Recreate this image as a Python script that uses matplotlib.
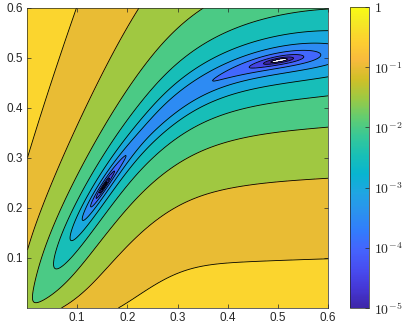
import numpy as np
import matplotlib
matplotlib.use("Agg")
import matplotlib.pyplot as plt
from matplotlib.colors import LinearSegmentedColormap, LogNorm
from matplotlib.cm import ScalarMappable

plt.rcParams['font.family'] = ['Liberation Sans', 'DejaVu Sans']
plt.rcParams['mathtext.fontset'] = 'cm'

# parula (MATLAB) anchor colours, every 4th entry of parula(64)
parula_rgb = [
    (0.2422, 0.1504, 0.6603), (0.2706, 0.2147, 0.8364), (0.2813, 0.3006, 0.9414),
    (0.2699, 0.3892, 0.9906), (0.1963, 0.4847, 0.9892), (0.1687, 0.5703, 0.9359),
    (0.1248, 0.6459, 0.8883), (0.0297, 0.7082, 0.8163), (0.0964, 0.7500, 0.7120),
    (0.2161, 0.7843, 0.5923), (0.3909, 0.8029, 0.4354), (0.6174, 0.7876, 0.2612),
    (0.8203, 0.7498, 0.1535), (0.9728, 0.7298, 0.2394), (0.9892, 0.8136, 0.1885),
    (0.9597, 0.9135, 0.1423), (0.9769, 0.9839, 0.0805),
]
parula_pos = [0, 4, 8, 12, 16, 20, 24, 28, 32, 36, 40, 44, 48, 52, 56, 60, 63]
parula = LinearSegmentedColormap.from_list(
    'parula', [(p / 63, c) for p, c in zip(parula_pos, parula_rgb)])

# the two minima of the surface (x positions)
min_x = [0.154, 0.503]

# valley centre line y = c(x): slope at origin, plateau height, bend sharpness, offset
valley_slope, valley_top, valley_pow, valley_offset = 1.59, 0.52, 3.5, 0.004

# along-valley weight: steep part near the origin + slow part towards the right
q_steep, q_steep_len, q_cut, q_cut_w = 6.05, 0.137, 0.24, 0.022
q_slow, q_slow_len = 0.8, 0.5

# stiffness across the valley, damped by exp(-gam*y)
a_far, a_near, a_len = 2.0, 3.3, 0.18
a_tip, a_tip_len = 9.5, 0.0169
gam = 1.0
# skew across the valley near the origin
beta0, beta_len = -1.2, 0.2

levels = 10.0 ** np.arange(-5, 0.01, 0.5)
cbar_ticks = [1e-5, 1e-4, 1e-3, 1e-2, 1e-1, 1]
cbar_labels = [r'$10^{-5}$', r'$10^{-4}$', r'$10^{-3}$', r'$10^{-2}$', r'$10^{-1}$', r'$1$']
axis_ticks = [0.1, 0.2, 0.3, 0.4, 0.5, 0.6]
tick_labels = ['0.1', '0.2', '0.3', '0.4', '0.5', '0.6']


def valley(x):
    s = valley_slope * x
    return valley_offset + s / (1 + (s / valley_top) ** valley_pow) ** (1 / valley_pow)


def along(x):
    Q = (q_steep * np.exp(-x / q_steep_len) / (1 + np.exp((x - q_cut) / q_cut_w))
         + q_slow * np.exp(-x / q_slow_len))
    return (x - min_x[0]) ** 2 * (x - min_x[1]) ** 2 * Q


def surface(x, y):
    d = y - valley(x)
    m = (valley(x + 1e-4) - valley(x - 1e-4)) / 2e-4
    u = x + m / (1 + m ** 2) * d          # foot of the normal on the valley
    stiff = a_far + a_near * np.exp(-u / a_len) + a_tip * np.exp(-u / a_tip_len)
    skew = np.exp(-beta0 * np.exp(-u / beta_len) * d)
    return along(x) + stiff * skew * d ** 2 * np.exp(-gam * y)


xs = np.linspace(0, 0.6, 601)
ys = np.linspace(0, 0.6, 601)
X, Y = np.meshgrid(xs, ys)
F = surface(X, Y)

norm = LogNorm(vmin=1e-5, vmax=1)
fill_colors = [parula(norm(v)) for v in levels[:-1]]

fig = plt.figure(figsize=(4.07, 3.32), dpi=100)
ax = fig.add_axes([27 / 407, 24 / 332, 301 / 407, 300 / 332])
ax.contourf(X, Y, F, levels=levels, colors=fill_colors)
ax.contour(X, Y, F, levels=levels, colors='k', linewidths=0.6)
ax.set_xlim(0, 0.6)
ax.set_ylim(0, 0.6)
ax.set_xticks(axis_ticks)
ax.set_yticks(axis_ticks)
ax.set_xticklabels(tick_labels)
ax.set_yticklabels(tick_labels)
ax.tick_params(direction='in', top=True, right=True, length=3, width=0.5,
               labelsize=8.5, colors='#262626', pad=3)
for sp in ax.spines.values():
    sp.set_linewidth(0.5)
    sp.set_color('#262626')

cax = fig.add_axes([350 / 407, 24 / 332, 19 / 407, 301 / 332])
cb = fig.colorbar(ScalarMappable(norm=norm, cmap=parula), cax=cax)
cb.set_ticks(cbar_ticks)
cb.set_ticklabels(cbar_labels)
cb.minorticks_off()
cb.outline.set_linewidth(0.5)
cb.outline.set_edgecolor('#262626')
cax.tick_params(direction='in', length=3, width=0.5, labelsize=10, colors='#262626')

fig.savefig('out.png', dpi=100)
